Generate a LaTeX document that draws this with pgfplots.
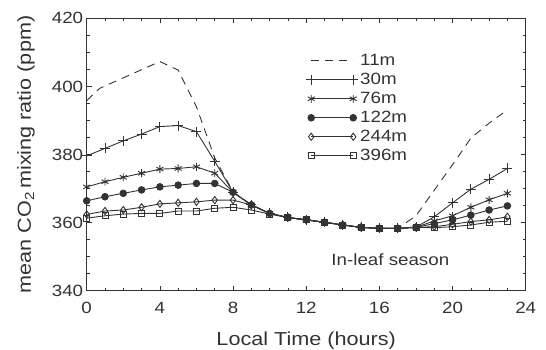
\documentclass[border=0pt]{standalone}
\usepackage{fontspec}
\setmainfont{Liberation Sans}[FakeStretch=1.15]
\usepackage{pgfplots}
\pgfplotsset{compat=1.18}
\definecolor{ink}{HTML}{333333}
\pgfplotsset{legend image code/.code={\draw[#1] plot coordinates {(0pt,0pt) (42pt,0pt)};}}
\begin{document}
\begin{tikzpicture}
\path[use as bounding box] (-86.7pt,-59.3pt) rectangle (459.3pt,290.7pt);
\begin{axis}[
 scale only axis, width=439pt, height=272.4pt, at={(0,0)}, anchor=south west,
 xmin=0, xmax=24, ymin=340, ymax=420,
 xtick={0,4,...,24}, ytick={340,360,...,420},
 minor x tick num=3, minor y tick num=3,
 tick align=inside, major tick length=5pt, minor tick length=3pt,
 axis line style={ink, line width=0.8pt},
 every tick/.style={ink, line width=0.6pt},
 /pgf/number format/assume math mode=true,
 tick label style={font=\fontsize{16.3}{18}\selectfont, text=ink},
 xticklabel style={anchor=base, yshift=-22.6pt},
 label style={font=\fontsize{18.8}{20}\selectfont, text=ink},
 xlabel={Local Time (hours)},
 ylabel={mean CO\textsubscript{2}\,mixing ratio (ppm)},
 xlabel style={at={(axis description cs:0.5,-0.2011)}, anchor=base},
 ylabel style={at={(axis description cs:-0.127,0.5)}, anchor=base},
 legend style={draw=none, fill=none, inner sep=0pt,
   at={(axis description cs:0.4996,0.876)}, anchor=north west,
   font=\fontsize{16.3}{19}\selectfont, text=ink,
   nodes={inner ysep=0pt, text height=13pt, text depth=4pt},
   row sep=2pt},
 legend cell align=left,
 every axis plot/.append style={ink, line width=0.9pt},
]
\addplot[dashed, dash pattern=on 8pt off 6pt, no markers] coordinates {
 (0,395.8) (0.7,399.4) (4,407.3) (5,404.8) (6,394.0) (7,379.0) (8,369.0)
 (9,365.2) (10,362.7) (11,361.5) (12,360.8) (13,360.1) (14,359.3) (15,358.6)
 (16,358.3) (17,358.3) (18,362.0) (19,369.5) (20,377.0) (21,384.8) (22,389.2) (23,393.1)};
\addlegendentry{11m}
\addplot[mark=+, mark size=5pt] coordinates {
 (0,379.6) (1,381.8) (2,384.0) (3,386.0) (4,388.2) (5,388.5) (6,386.7) (7,378.0) (8,368.9)
 (9,365.2) (10,362.7) (11,361.5) (12,360.8) (13,360.1) (14,359.3) (15,358.6)
 (16,358.3) (17,358.3) (18,358.7) (19,361.7) (20,365.8) (21,369.8) (22,372.7) (23,375.9)};
\addlegendentry{30m}
\addplot[mark=asterisk, mark size=4pt] coordinates {
 (0,370.5) (1,372.0) (2,373.3) (3,374.5) (4,375.7) (5,375.9) (6,376.4) (7,374.5) (8,368.9)
 (9,365.2) (10,362.7) (11,361.5) (12,360.8) (13,360.1) (14,359.3) (15,358.6)
 (16,358.3) (17,358.3) (18,358.6) (19,360.5) (20,362.0) (21,364.5) (22,366.7) (23,368.6)};
\addlegendentry{76m}
\addplot[mark=*, mark size=3.3pt, mark options={fill=ink}] coordinates {
 (0,366.4) (1,367.6) (2,368.6) (3,369.6) (4,370.5) (5,371.0) (6,371.5) (7,371.5) (8,368.9)
 (9,365.2) (10,362.7) (11,361.5) (12,360.8) (13,360.1) (14,359.3) (15,358.6)
 (16,358.3) (17,358.3) (18,358.6) (19,359.7) (20,360.8) (21,362.2) (22,363.7) (23,364.9)};
\addlegendentry{122m}
\addplot[mark=diamond, mark size=3.6pt, mark options={fill=white}] coordinates {
 (0,362.4) (1,363.4) (2,363.7) (3,364.5) (4,365.5) (5,365.8) (6,366.1) (7,366.6) (8,366.6)
 (9,365.2) (10,362.7) (11,361.5) (12,360.8) (13,360.1) (14,359.3) (15,358.6)
 (16,358.3) (17,358.3) (18,358.6) (19,358.8) (20,359.5) (21,360.3) (22,360.8) (23,361.7)};
\addlegendentry{244m}
\addplot[mark=square, mark size=3pt, mark options={fill=white}] coordinates {
 (0,361.3) (1,362.0) (2,362.5) (3,362.7) (4,362.7) (5,363.4) (6,363.4) (7,364.2) (8,364.5)
 (9,363.7) (10,362.5) (11,361.5) (12,360.8) (13,360.1) (14,359.3) (15,358.6)
 (16,358.3) (17,358.3) (18,358.6) (19,358.5) (20,358.8) (21,359.3) (22,360.1) (23,360.4)};
\addlegendentry{396m}
\node[anchor=base, font=\fontsize{16.3}{18}\selectfont, text=ink] at (axis cs:16.6,347.3) {In-leaf season};
\end{axis}
\end{tikzpicture}
\end{document}
